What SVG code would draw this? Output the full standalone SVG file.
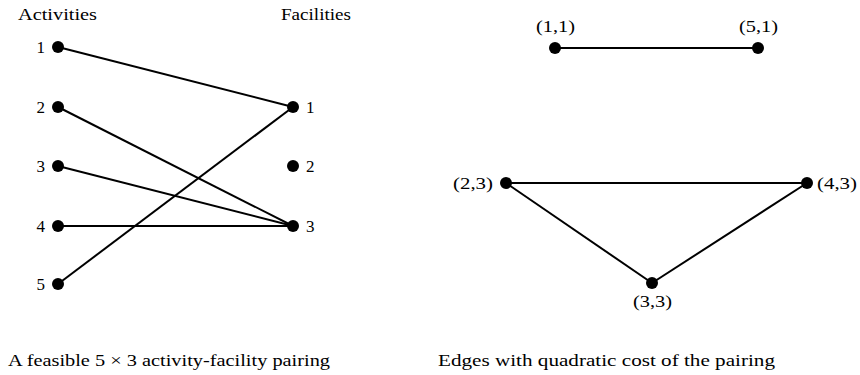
<svg xmlns="http://www.w3.org/2000/svg" width="860" height="375" viewBox="0 0 860 375">
<style>
text{font-family:"Liberation Serif","DejaVu Serif",serif;font-size:17px;fill:#000}
.dot{fill:#000}
.e{stroke:#000;stroke-width:2;fill:none}
.r{text-anchor:end}
.m{text-anchor:middle}
</style>
<rect width="860" height="375" fill="#fff"/>
<text x="18" y="20" textLength="79" lengthAdjust="spacingAndGlyphs">Activities</text>
<text x="281" y="20" textLength="70" lengthAdjust="spacingAndGlyphs">Facilities</text>
<g id="connectors">
<line class="e" x1="58" y1="47" x2="293" y2="107"/>
<line class="e" x1="58" y1="107" x2="293" y2="226"/>
<line class="e" x1="58" y1="166" x2="293" y2="226"/>
<line class="e" x1="58" y1="226" x2="293" y2="226"/>
<line class="e" x1="58" y1="284" x2="293" y2="107"/>
<line class="e" x1="555" y1="48" x2="758" y2="48"/>
<line class="e" x1="506" y1="183" x2="807" y2="183"/>
<line class="e" x1="506" y1="183" x2="652" y2="283"/>
<line class="e" x1="807" y1="183" x2="652" y2="283"/>
</g>
<g id="a1"><circle class="dot" cx="58" cy="47" r="6"/><text class="r" x="45" y="53">1</text></g>
<g id="a2"><circle class="dot" cx="58" cy="107" r="6"/><text class="r" x="45" y="113">2</text></g>
<g id="a3"><circle class="dot" cx="58" cy="166" r="6"/><text class="r" x="45" y="172">3</text></g>
<g id="a4"><circle class="dot" cx="58" cy="226" r="6"/><text class="r" x="45" y="232">4</text></g>
<g id="a5"><circle class="dot" cx="58" cy="284" r="6"/><text class="r" x="45" y="290">5</text></g>
<g id="f1"><circle class="dot" cx="293" cy="107" r="6"/><text x="306" y="113">1</text></g>
<g id="f2"><circle class="dot" cx="293" cy="166" r="6"/><text x="306" y="172">2</text></g>
<g id="f3"><circle class="dot" cx="293" cy="226" r="6"/><text x="306" y="232">3</text></g>
<g id="p11"><circle class="dot" cx="555" cy="48" r="6"/><text x="536" y="32" textLength="39" lengthAdjust="spacingAndGlyphs">(1,1)</text></g>
<g id="p51"><circle class="dot" cx="758" cy="48" r="6"/><text x="739" y="32" textLength="39" lengthAdjust="spacingAndGlyphs">(5,1)</text></g>
<g id="p23"><circle class="dot" cx="506" cy="183" r="6"/><text x="453" y="189" textLength="40" lengthAdjust="spacingAndGlyphs">(2,3)</text></g>
<g id="p43"><circle class="dot" cx="807" cy="183" r="6"/><text x="817" y="189" textLength="40" lengthAdjust="spacingAndGlyphs">(4,3)</text></g>
<g id="p33"><circle class="dot" cx="652" cy="283" r="6"/><text x="633" y="307" textLength="39" lengthAdjust="spacingAndGlyphs">(3,3)</text></g>
<text x="8" y="366" textLength="322" lengthAdjust="spacingAndGlyphs">A feasible 5 × 3 activity-facility pairing</text>
<text x="438" y="366" textLength="337" lengthAdjust="spacingAndGlyphs">Edges with quadratic cost of the pairing</text>
</svg>
